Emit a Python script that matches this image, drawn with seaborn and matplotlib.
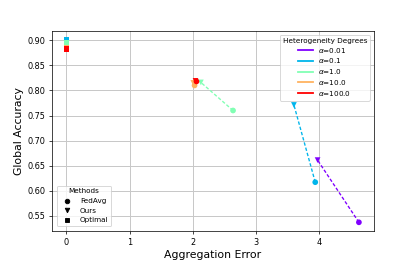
import numpy as np
import pandas as pd
import matplotlib
matplotlib.use("Agg")
import matplotlib.pyplot as plt
from matplotlib.lines import Line2D
import seaborn as sns

alphas = ["0.01", "0.1", "1.0", "10.0", "100.0"]
fedavg_err = [4.635, 3.943, 2.64, 2.03, 2.06]
fedavg_acc = [0.537, 0.617, 0.760, 0.810, 0.818]
ours_err = [3.98, 3.605, 2.13, 2.01, 2.045]
ours_acc = [0.661, 0.771, 0.816, 0.815, 0.819]
opt_err = [0.0, 0.0, 0.0, 0.0, 0.0]
opt_acc = [0.900, 0.900, 0.894, 0.884, 0.882]

methods = ["FedAvg", "Ours", "Optimal"]
markers = {"FedAvg": "o", "Ours": "v", "Optimal": "s"}

rows = []
for i, a in enumerate(alphas):
    rows.append((a, "FedAvg", fedavg_err[i], fedavg_acc[i]))
    rows.append((a, "Ours", ours_err[i], ours_acc[i]))
    rows.append((a, "Optimal", opt_err[i], opt_acc[i]))
df = pd.DataFrame(rows, columns=["alpha", "method", "error", "accuracy"])

colors = plt.cm.rainbow(np.linspace(0, 1, len(alphas)))
palette = {a: colors[i] for i, a in enumerate(alphas)}

fig, ax = plt.subplots(figsize=(6.385, 4), dpi=65)

for a in alphas:
    sub = df[(df["alpha"] == a) & (df["method"] != "Optimal")]
    sns.lineplot(data=sub, x="error", y="accuracy", color=palette[a],
                 linestyle=(0, (2.5, 1.5)), linewidth=1.5, sort=False, estimator=None,
                 ax=ax, legend=False)

for a in alphas:
    sub = df[df["alpha"] == a]
    sns.scatterplot(data=sub, x="error", y="accuracy", style="method",
                    markers=markers, color=palette[a], s=40, edgecolor="none",
                    ax=ax, legend=False, zorder=3)

ax.grid(True, color="#c8c8c8", linewidth=1.1)
ax.set_xlabel("Aggregation Error", fontsize=12)
ax.set_ylabel("Global Accuracy", fontsize=12)
ax.set_xticks([0, 1, 2, 3, 4])
ax.set_yticks([0.55, 0.60, 0.65, 0.70, 0.75, 0.80, 0.85, 0.90])
ax.tick_params(labelsize=9)

h1 = [Line2D([0], [0], color=palette[a], lw=2) for a in alphas]
l1 = [r"$\alpha$=" + a for a in alphas]
leg1 = ax.legend(h1, l1, title="Heterogeneity Degrees", loc="upper right",
                 fontsize=8, title_fontsize=8, labelspacing=0.25)
ax.add_artist(leg1)
h2 = [Line2D([0], [0], color="black", marker=markers[m], linestyle="none", markersize=5) for m in methods]
ax.legend(h2, methods, title="Methods", loc="lower left", fontsize=8, title_fontsize=8,
          borderaxespad=0.7)

fig.savefig("out.png", dpi=65)
